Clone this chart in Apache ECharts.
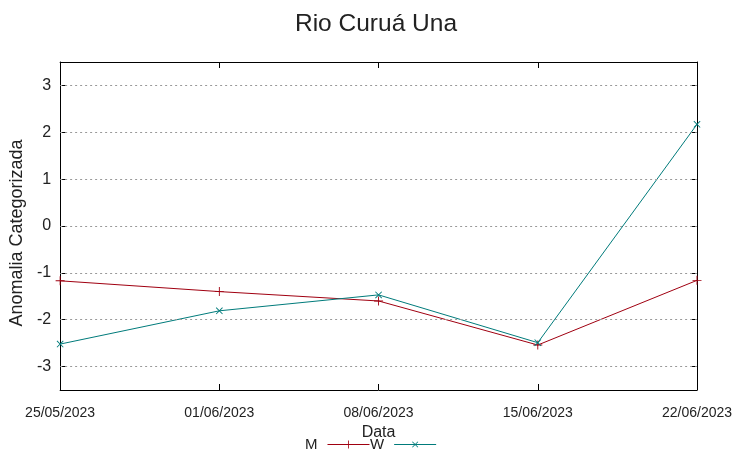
<!DOCTYPE html>
<html>
<head>
<meta charset="utf-8">
<script src="https://cdn.jsdelivr.net/npm/echarts@6/dist/echarts.min.js"></script>
<style>html,body{margin:0;padding:0;background:#fff}#c{width:752px;height:459px}</style>
</head>
<body>
<div id="c"></div>
<script>
const categories = ['25/05/2023', '01/06/2023', '08/06/2023', '15/06/2023', '22/06/2023'];
const seriesM = [-1.17, -1.40, -1.60, -2.54, -1.16];
const seriesW = [-2.52, -1.81, -1.47, -2.49, 2.17];
const yTicks = [-3, -2, -1, 0, 1, 2, 3];

const FONT = 'Liberation Sans';
const plusPath = 'path://M4.5,0h1v10h-1z M0,4.5h10v1h-10z';
const colM = '#a00010';
const colW = '#007b7b';

const chart = echarts.init(document.getElementById('c'));
chart.setOption({
  animation: false,
  backgroundColor: '#fff',
  title: {
    text: 'Rio Curuá Una', left: 'center', top: 7,
    textStyle: { fontFamily: FONT, fontSize: 24.5, fontWeight: 'normal', color: '#222' }
  },
  legend: {
    bottom: 2, left: 300, align: 'right', itemGap: 0, itemWidth: 42, itemHeight: 10,
    lineStyle: { width: 1 },
    textStyle: { fontFamily: FONT, fontSize: 15, color: '#222', padding: [0, 5, 0, 0] },
    data: ['M', 'W']
  },
  grid: { left: 58, right: 55, top: 62, bottom: 69 },
  xAxis: [{
    type: 'category', data: categories, boundaryGap: false,
    name: 'Data', nameLocation: 'middle', nameGap: 31,
    nameTextStyle: { fontFamily: FONT, fontSize: 16, color: '#222' },
    axisLine: { onZero: false, lineStyle: { color: '#000', width: 1 } },
    axisTick: { inside: true, length: 6, lineStyle: { color: '#000' } },
    axisLabel: { fontFamily: FONT, fontSize: 14, color: '#222', margin: 16, interval: 0 },
    splitLine: { show: false }
  }, {
    type: 'category', data: categories, boundaryGap: false, position: 'top',
    axisLine: { onZero: false, lineStyle: { color: '#000', width: 1 } },
    axisTick: { inside: true, length: 6, lineStyle: { color: '#000' } },
    axisLabel: { show: false }, splitLine: { show: false }
  }],
  yAxis: [{
    type: 'value', min: -3.5, max: 3.5, interval: 0.5,
    name: 'Anomalia Categorizada', nameLocation: 'middle', nameGap: 13,
    nameTextStyle: { fontFamily: FONT, fontSize: 18, color: '#222', padding: [0, 14, 0, 0] },
    axisLine: { show: true, onZero: false, lineStyle: { color: '#000', width: 1 } },
    axisTick: { show: true, inside: true, length: 6, customValues: yTicks, lineStyle: { color: '#000' } },
    axisLabel: {
      fontFamily: FONT, fontSize: 16, color: '#222', margin: 9,
      customValues: yTicks
    },
    splitLine: { show: false }
  }, {
    type: 'value', min: -3.5, max: 3.5, interval: 0.5, position: 'right',
    axisLine: { show: true, onZero: false, lineStyle: { color: '#000', width: 1 } },
    axisTick: { show: true, inside: true, length: 6, customValues: yTicks, lineStyle: { color: '#000' } },
    axisLabel: { show: false }, splitLine: { show: false }
  }],
  series: [
    {
      name: 'grid', type: 'line', data: [], silent: true,
      markLine: {
        silent: true, symbol: 'none', label: { show: false },
        lineStyle: { type: [2, 3], color: '#999', width: 1 },
        data: yTicks.map(v => ({ yAxis: v }))
      }
    },
    {
      name: 'M', type: 'line', data: seriesM, color: colM,
      symbol: plusPath, symbolSize: 9, showSymbol: true,
      lineStyle: { width: 1, color: colM }, itemStyle: { color: colM }
    },
    {
      name: 'W', type: 'line', data: seriesW, color: colW,
      symbol: plusPath, symbolSize: 9, symbolRotate: 45, showSymbol: true,
      lineStyle: { width: 1, color: colW }, itemStyle: { color: colW }
    }
  ]
});
</script>
</body>
</html>
